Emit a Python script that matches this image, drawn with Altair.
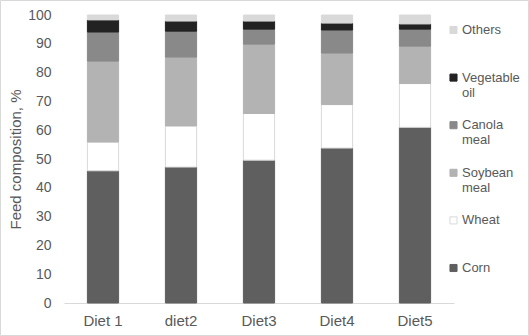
import altair as alt
import pandas as pd

diets = ["Diet 1", "diet2", "Diet3", "Diet4", "Diet5"]
ingredients = ["Corn", "Wheat", "Soybean meal", "Canola meal", "Vegetable oil", "Others"]
corn = [45.9, 47.2, 49.6, 53.8, 61.0]
wheat = [10.0, 14.3, 16.2, 15.1, 15.2]
soybean = [28.1, 23.9, 24.1, 17.9, 13.0]
canola = [10.1, 9.0, 5.2, 8.0, 5.9]
vegoil = [4.2, 3.5, 2.8, 2.4, 1.8]
others = [1.7, 2.1, 2.1, 2.8, 3.1]

fills = ["#5f5f5f", "#ffffff", "#b3b3b3", "#898989", "#222222", "#d9d9d9"]
strokes = ["#5f5f5f", "#d9d9d9", "#b3b3b3", "#898989", "#222222", "#d9d9d9"]

series = [corn, wheat, soybean, canola, vegoil, others]
rows = []
for k, (name, vals) in enumerate(zip(ingredients, series)):
    for d, v in zip(diets, vals):
        rows.append({"Diet": d, "Ingredient": name, "Value": v, "order": k})
df = pd.DataFrame(rows)

legend_domain = ingredients[::-1]
legend_fill = fills[::-1]
legend_stroke = strokes[::-1]

W, H = 390, 288
PAD_L, PAD_T = 64, 15


def make_legend():
    return alt.Legend(title=None, orient="none", legendX=383, legendY=8.5,
                      labelFontSize=13, labelColor="#595959",
                      labelFont="Liberation Sans", symbolType="square",
                      symbolSize=50, symbolStrokeWidth=1, rowPadding=18.6,
                      labelExpr="indexof(datum.label, ' ') > 0 ? split(datum.label, ' ') : [datum.label, ' ']",
                      padding=0, labelOffset=2)


bars = alt.Chart(df).mark_bar(strokeWidth=1).encode(
    x=alt.X("Diet:N", sort=diets, title=None,
            scale=alt.Scale(paddingInner=0.6, paddingOuter=0.3),
            axis=alt.Axis(labelAngle=0, labelFontSize=15, labelColor="#595959",
                          labelFont="Liberation Sans", ticks=False, domainColor="#d9d9d9",
                          labelPadding=10, grid=False)),
    y=alt.Y("Value:Q", stack="zero", title="Feed composition, %",
            scale=alt.Scale(domain=[0, 100], nice=False),
            axis=alt.Axis(values=list(range(0, 101, 10)), labelFontSize=14,
                          labelColor="#595959", labelFont="Liberation Sans",
                          ticks=False, domain=False, grid=False, labelPadding=13,
                          titleFontSize=15, titleFont="Liberation Sans",
                          titleColor="#595959", titleFontWeight="normal",
                          titlePadding=4)),
    fill=alt.Fill("Ingredient:N",
                  scale=alt.Scale(domain=legend_domain, range=legend_fill),
                  legend=make_legend()),
    stroke=alt.Stroke("Ingredient:N",
                      scale=alt.Scale(domain=legend_domain, range=legend_stroke),
                      legend=make_legend()),
    order=alt.Order("order:Q", sort="ascending"),
)

frame = alt.Chart(alt.Data(values=[{"a": 1}])).mark_rect(
    fill=None, stroke="#d9d9d9", strokeWidth=1, clip=False
).encode(
    x=alt.value(-PAD_L + 0.5), x2=alt.value(529 - PAD_L - 0.5),
    y=alt.value(-PAD_T + 0.5), y2=alt.value(336 - PAD_T - 0.5),
)

chart = alt.layer(bars, frame).properties(
    width=W, height=H,
    autosize=alt.AutoSizeParams(type="none"),
    padding={"left": PAD_L, "top": PAD_T, "right": 529 - PAD_L - W, "bottom": 336 - PAD_T - H},
    background="white",
).configure_view(stroke=None)

chart.save("out.html", embed_options={"renderer": "svg", "actions": False})
